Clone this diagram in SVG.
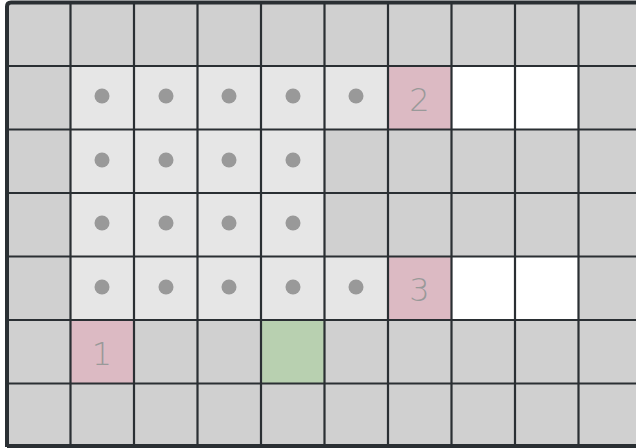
<svg xmlns="http://www.w3.org/2000/svg" width="636" height="448" viewBox="0 0 636 448">
<style>
.g{fill:#d0d0d0}
.l{fill:#e6e6e6}
.p{fill:#dcbac3}
.v{fill:#b8d0b0}
.w{fill:#ffffff}
.d{fill:#999999}
.t{font-family:"DejaVu Sans","Liberation Sans",sans-serif;font-weight:200;font-size:32px;fill:#999999;text-anchor:middle}
.ln{stroke:#2a2f33;stroke-width:2.2;fill:none}
</style>
<rect x="0" y="0" width="636" height="448" fill="#ffffff"/>
<g id="cells">
<rect class="g" x="7" y="2.5" width="640" height="445"/>
<g id="row1">
<rect class="l" x="70.5" y="66" width="317.5" height="63.5"/>
<rect class="p" x="388" y="66" width="63.5" height="63.5"/>
<rect class="w" x="451.5" y="66" width="127" height="63.5"/>
</g>
<g id="row2"><rect class="l" x="70.5" y="129.5" width="254" height="63.5"/></g>
<g id="row3"><rect class="l" x="70.5" y="193" width="254" height="63.5"/></g>
<g id="row4">
<rect class="l" x="70.5" y="256.5" width="317.5" height="63.5"/>
<rect class="p" x="388" y="256.5" width="63.5" height="63.5"/>
<rect class="w" x="451.5" y="256.5" width="127" height="63.5"/>
</g>
<g id="row5">
<rect class="p" x="70.5" y="320" width="63.5" height="63.5"/>
<rect class="v" x="261" y="320" width="63.5" height="63.5"/>
</g>
</g>
<g id="dots">
<circle class="d" cx="102" cy="96" r="7.5"/><circle class="d" cx="166" cy="96" r="7.5"/><circle class="d" cx="229" cy="96" r="7.5"/><circle class="d" cx="293" cy="96" r="7.5"/><circle class="d" cx="356" cy="96" r="7.5"/>
<circle class="d" cx="102" cy="160" r="7.5"/><circle class="d" cx="166" cy="160" r="7.5"/><circle class="d" cx="229" cy="160" r="7.5"/><circle class="d" cx="293" cy="160" r="7.5"/>
<circle class="d" cx="102" cy="223" r="7.5"/><circle class="d" cx="166" cy="223" r="7.5"/><circle class="d" cx="229" cy="223" r="7.5"/><circle class="d" cx="293" cy="223" r="7.5"/>
<circle class="d" cx="102" cy="287" r="7.5"/><circle class="d" cx="166" cy="287" r="7.5"/><circle class="d" cx="229" cy="287" r="7.5"/><circle class="d" cx="293" cy="287" r="7.5"/><circle class="d" cx="356" cy="287" r="7.5"/>
</g>
<g id="labels">
<text class="t" x="419.5" y="111">2</text>
<text class="t" x="419.5" y="301">3</text>
<text class="t" x="102" y="365">1</text>
</g>
<g id="gridlines">
<path class="ln" d="M70.5 2.5V447M134 2.5V447M197.5 2.5V447M261 2.5V447M324.5 2.5V447M388 2.5V447M451.5 2.5V447M515 2.5V447M578.5 2.5V447"/>
<path class="ln" d="M7 66H640M7 129.5H640M7 193H640M7 256.5H640M7 320H640M7 383.5H640"/>
<path d="M7 447V6.5Q7 2.5 11 2.5H640M7 446H640" stroke="#2a2f33" stroke-width="4" fill="none"/>
</g>
</svg>
